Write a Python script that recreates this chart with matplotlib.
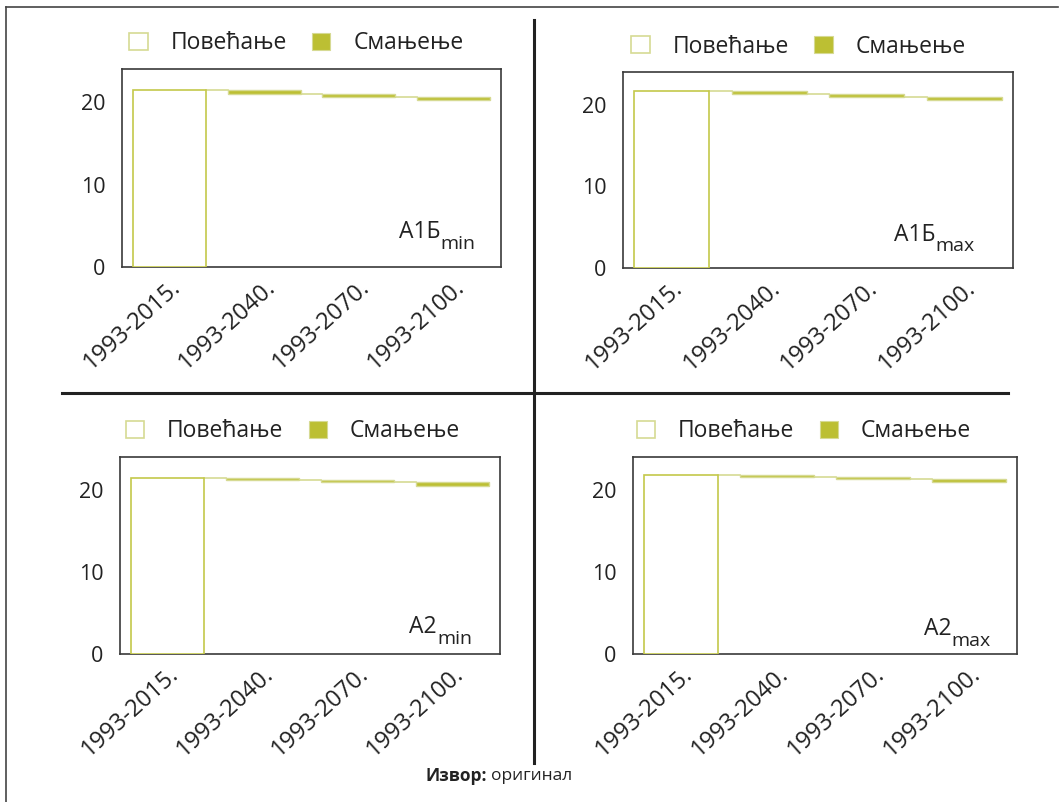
#!/usr/bin/env python3
"""Waterfall panels: change by period for four scenarios."""

import matplotlib
matplotlib.use("Agg")
import matplotlib.pyplot as plt
import matplotlib.transforms as mtransforms
from matplotlib.patches import Patch
from matplotlib.lines import Line2D
import numpy as np

plt.rcParams["font.family"] = ["Open Sans", "DejaVu Sans"]

periods = ["1993-2015.", "1993-2040.", "1993-2070.", "1993-2100."]
a1b_min = [21.5, -0.5, -0.4, -0.4]
a1b_max = [21.7, -0.4, -0.4, -0.3]
a2_min = [21.5, -0.3, -0.3, -0.4]
a2_max = [21.8, -0.25, -0.25, -0.3]
scenarios = [("A1Б", "min"), ("A1Б", "max"), ("A2", "min"), ("A2", "max")]
legend_labels = ["Повећање", "Смањење"]

INC_EDGE = "#c4c84a"
INC_LIGHT = "#d6da93"
DEC_FILL = "#bcbf33"
TXT = "#222222"


def draw_panel(ax, values, name, sub, name_pos, legend_x):
    vals = np.array(values, dtype=float)
    ends = np.cumsum(vals)
    starts = ends - vals
    x = np.arange(len(vals))
    width = 0.77
    for i, v in enumerate(vals):
        lo, hi = min(starts[i], ends[i]), max(starts[i], ends[i])
        if v >= 0:
            ax.bar(x[i], hi - lo, width, bottom=lo, facecolor="white",
                   edgecolor=INC_EDGE, linewidth=1.2, zorder=3)
        else:
            ax.bar(x[i], hi - lo, width, bottom=lo, facecolor=DEC_FILL,
                   edgecolor=INC_LIGHT, linewidth=1.0, zorder=3)
    # connectors between bars
    for i in range(len(vals) - 1):
        ax.plot([x[i] + width / 2, x[i + 1] - width / 2], [ends[i], ends[i]],
                color=INC_LIGHT, linewidth=1.2, zorder=2)
    ax.set_xlim(-0.5, len(vals) - 0.5)
    ax.set_ylim(0, 24)
    ax.set_yticks([0, 10, 20])
    ax.set_xticks(x)
    ax.set_xticklabels(periods, rotation=42, ha="right", rotation_mode="anchor",
                       fontsize=17, color=TXT)
    shift = mtransforms.ScaledTranslation(7 / 72, 0, ax.figure.dpi_scale_trans)
    for lbl in ax.get_xticklabels():
        lbl.set_transform(lbl.get_transform() + shift)
    ax.tick_params(axis="y", length=0, pad=12, labelsize=15.5, labelcolor=TXT)
    ax.tick_params(axis="x", length=0, pad=6)
    for s in ax.spines.values():
        s.set_color("#3a3a3a")
        s.set_linewidth(1.2)
    t = ax.text(name_pos[0], name_pos[1], name, transform=ax.transAxes, ha="right",
                va="baseline", fontsize=16.5, color=TXT)
    ax.annotate(sub, xy=(1.0, 0.0), xycoords=t, xytext=(0, -3.5),
                textcoords="offset points", ha="left", va="baseline",
                fontsize=14, color=TXT)
    handles = [Patch(facecolor="white", edgecolor=INC_LIGHT, linewidth=1.2),
               Patch(facecolor=DEC_FILL, edgecolor=INC_LIGHT, linewidth=0.8)]
    ax.legend(handles, legend_labels, loc="center", bbox_to_anchor=(legend_x, 1.13),
              ncol=2, frameon=False, fontsize=16.5, handlelength=0.8, handleheight=0.8,
              columnspacing=1.1, handletextpad=1.0, labelcolor=TXT)


W, H = 1063, 802
fig = plt.figure(figsize=(W / 100, H / 100), dpi=100)

boxes = [(122, 501, 69, 267), (623, 1013, 72, 268),
         (120, 500, 457, 654), (633, 1017, 457, 654)]
name_positions = [(0.84, 0.145), (0.80, 0.14), (0.834, 0.107), (0.83, 0.097)]
legend_xs = [0.46, 0.45, 0.455, 0.445]
data = [a1b_min, a1b_max, a2_min, a2_max]

for (l, r, t, b), vals, (name, sub), npos, lx in zip(boxes, data, scenarios,
                                                     name_positions, legend_xs):
    ax = fig.add_axes([l / W, 1 - b / H, (r - l) / W, (b - t) / H])
    draw_panel(ax, vals, name, sub, npos, lx)

# frame and dividers
fig.add_artist(Line2D([6 / W, 6 / W], [0, 1 - 7 / H], color="#444444", linewidth=1.2))
fig.add_artist(Line2D([6 / W, 1058 / W], [1 - 7 / H, 1 - 7 / H], color="#444444", linewidth=1.2))
fig.add_artist(Line2D([534 / W, 534 / W], [1 - 763 / H, 1 - 20 / H], color="#222222", linewidth=2.2))
fig.add_artist(Line2D([62 / W, 1008 / W], [1 - 393.5 / H, 1 - 393.5 / H], color="#222222", linewidth=2.2))

fig.text(487 / W, 1 - 776 / H, "Извор:", ha="right", va="center", fontsize=12.5,
         fontweight="bold", color=TXT)
fig.text(491 / W, 1 - 776 / H, "оригинал", ha="left", va="center", fontsize=12.5,
         color=TXT)

fig.savefig("out.png", dpi=100)
